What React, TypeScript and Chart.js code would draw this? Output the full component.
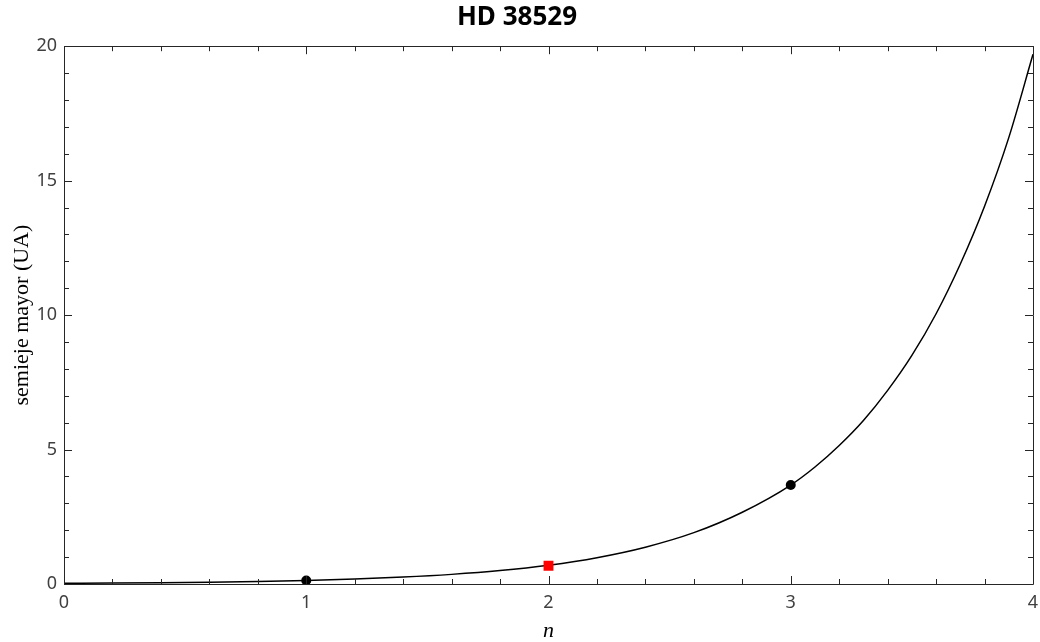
import React, { useEffect, useRef } from "react";
import { Chart, registerables } from "chart.js";

Chart.register(...registerables);

// Curve samples (n, semieje mayor in UA)
const curveN = [0, 0.2, 0.4, 0.6, 0.8, 1.0, 1.2, 1.4, 1.6, 1.8, 2.0, 2.2, 2.4, 2.6, 2.8, 3.0, 3.1, 3.2, 3.3, 3.4, 3.5, 3.6, 3.7, 3.8, 3.9, 4.0];
const curveA = [0.025, 0.034, 0.048, 0.067, 0.094, 0.131, 0.183, 0.256, 0.358, 0.5, 0.7, 0.98, 1.37, 1.91, 2.67, 3.68, 4.35, 5.15, 6.08, 7.2, 8.5, 10.05, 11.9, 14.05, 16.6, 19.7];

// Known planets (black dots)
const planetN = [1, 3];
const planetA = [0.131, 3.68];

// Predicted position (red square)
const predN = [2];
const predA = [0.68];

const xTicks = [0, 1, 2, 3, 4];
const yTicks = [0, 5, 10, 15, 20];
const xMinorStep = 0.2;
const yMinorStep = 1;

const TITLE = "HD 38529";
const X_TITLE = "n";
const Y_TITLE = "semieje mayor (UA)";

const framePlugin = {
  id: "framePlugin",
  afterDatasetsDraw(chart: any) {
    const { ctx, chartArea, scales } = chart;
    const { left, right, top, bottom } = chartArea;
    const xs = scales.x;
    const ys = scales.y;
    ctx.save();
    ctx.strokeStyle = "#262626";
    ctx.lineWidth = 1;
    ctx.beginPath();
    ctx.rect(Math.round(left) + 0.5, Math.round(top) + 0.5, Math.round(right - left), Math.round(bottom - top));
    ctx.stroke();
    const major = 8;
    const minor = 5;
    ctx.beginPath();
    for (let v = xs.min; v <= xs.max + 1e-9; v += xMinorStep) {
      const isMajor = xTicks.some((t) => Math.abs(t - v) < 1e-6);
      const len = isMajor ? major : minor;
      const px = Math.round(xs.getPixelForValue(v)) + 0.5;
      ctx.moveTo(px, bottom);
      ctx.lineTo(px, bottom - len);
      ctx.moveTo(px, top);
      ctx.lineTo(px, top + len);
    }
    for (let v = ys.min; v <= ys.max + 1e-9; v += yMinorStep) {
      const isMajor = yTicks.some((t) => Math.abs(t - v) < 1e-6);
      const len = isMajor ? major : minor;
      const py = Math.round(ys.getPixelForValue(v)) + 0.5;
      ctx.moveTo(left, py);
      ctx.lineTo(left + len, py);
      ctx.moveTo(right, py);
      ctx.lineTo(right - len, py);
    }
    ctx.stroke();
    ctx.restore();
  },
};

export default function App() {
  const ref = useRef<HTMLCanvasElement | null>(null);
  useEffect(() => {
    document.body.style.margin = "0";
    const canvas = ref.current;
    if (!canvas) return;
    const chart = new Chart(canvas, {
      type: "line",
      data: {
        datasets: [
          {
            label: "pred",
            data: predN.map((n, i) => ({ x: n, y: predA[i] })),
            showLine: false,
            pointStyle: "rect",
            pointRadius: 7,
            pointBackgroundColor: "#ff0000",
            pointBorderColor: "#ff0000",
            pointBorderWidth: 0,
            order: 0,
          },
          {
            label: "planets",
            data: planetN.map((n, i) => ({ x: n, y: planetA[i] })),
            showLine: false,
            pointStyle: "circle",
            pointRadius: 5,
            pointBackgroundColor: "#000000",
            pointBorderColor: "#000000",
            pointBorderWidth: 0,
            order: 1,
          },
          {
            label: "curve",
            data: curveN.map((n, i) => ({ x: n, y: curveA[i] })),
            borderColor: "#000000",
            borderWidth: 1.5,
            pointRadius: 0,
            cubicInterpolationMode: "monotone",
            fill: false,
            order: 2,
          },
        ],
      },
      options: {
        animation: false,
        responsive: false,
        maintainAspectRatio: false,
        layout: { padding: { top: 0, left: 0, right: 6, bottom: 0 } },
        plugins: {
          legend: { display: false },
          tooltip: { enabled: false },
          title: {
            display: true,
            text: TITLE,
            color: "#000000",
            font: { family: "'Noto Sans'", size: 26, weight: "bold", lineHeight: 1.2 },
            padding: { top: 2, bottom: 13 },
          },
        },
        scales: {
          x: {
            type: "linear",
            min: 0,
            max: 4,
            grid: { display: false, drawTicks: false },
            border: { display: false },
            afterBuildTicks: (s: any) => {
              s.ticks = xTicks.map((v) => ({ value: v }));
            },
            afterFit: (s: any) => {
              s.height = 58;
              s.paddingLeft = 0;
              s.paddingRight = 0;
            },
            ticks: {
              color: "#404040",
              padding: 8,
              maxRotation: 0,
              font: { family: "'Noto Sans'", size: 18 },
            },
            title: {
              display: true,
              text: X_TITLE,
              color: "#000000",
              font: { family: "'Liberation Serif'", size: 22, style: "italic", lineHeight: 1 },
              padding: { top: 0, bottom: 0 },
            },
          },
          y: {
            type: "linear",
            min: 0,
            max: 20,
            grid: { display: false, drawTicks: false },
            border: { display: false },
            afterBuildTicks: (s: any) => {
              s.ticks = yTicks.map((v) => ({ value: v }));
            },
            afterFit: (s: any) => {
              s.width = 64;
              s.paddingTop = 0;
              s.paddingBottom = 0;
            },
            ticks: {
              color: "#404040",
              padding: 7,
              font: { family: "'Noto Sans'", size: 18 },
            },
            title: {
              display: true,
              text: Y_TITLE,
              color: "#000000",
              font: { family: "'Liberation Serif'", size: 22, lineHeight: 1 },
              padding: { top: 11, bottom: 0 },
            },
          },
        },
      },
      plugins: [framePlugin],
    } as any);
    return () => chart.destroy();
  }, []);
  return (
    <div style={{ position: "absolute", left: 0, top: 0, width: 1040, height: 642 }}>
      <canvas ref={ref} width={1040} height={642} style={{ width: 1040, height: 642, display: "block" }} />
    </div>
  );
}
